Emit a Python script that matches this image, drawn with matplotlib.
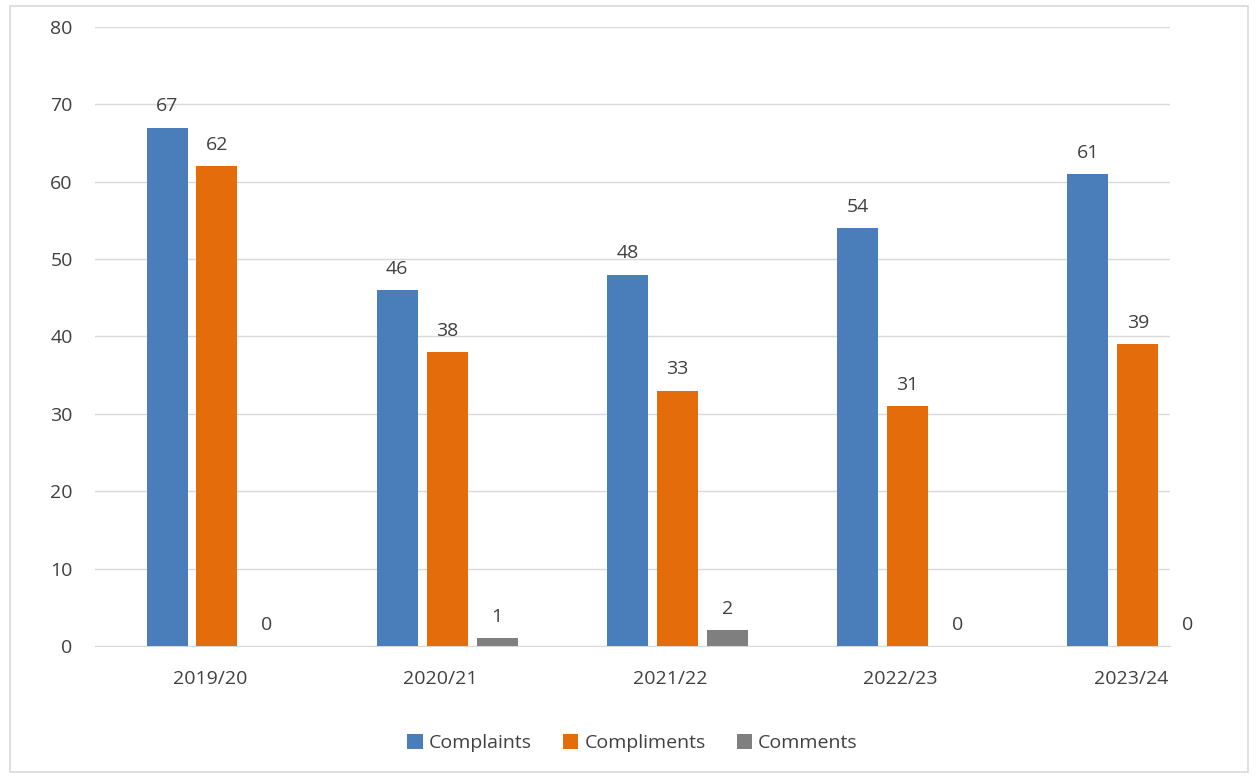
"""Complaints, compliments and comments by year - grouped bar chart."""

import matplotlib.pyplot as plt
import matplotlib as mpl
import numpy as np
from matplotlib.patches import Rectangle

mpl.rcParams.update(
    {
        "font.family": ["Open Sans", "DejaVu Sans"],
        "font.size": 14,
        "text.color": "#404040",
    }
)

YEARS = ["2019/20", "2020/21", "2021/22", "2022/23", "2023/24"]
COMPLAINTS = [67, 46, 48, 54, 61]
COMPLIMENTS = [62, 38, 33, 31, 39]
COMMENTS = [0, 1, 2, 0, 0]

SERIES = [
    ("Complaints", COMPLAINTS, "#4a7ebb"),
    ("Compliments", COMPLIMENTS, "#e46c0a"),
    ("Comments", COMMENTS, "#7f7f7f"),
]

fig = plt.figure(figsize=(12.56, 7.78), dpi=100, facecolor="white")
ax = fig.add_axes([0.0756, 0.1697, 0.856, 0.7956])

x = np.arange(len(YEARS))
offset = 0.217
width = 0.178

for k, (name, vals, color) in enumerate(SERIES):
    pos = x + (k - 1) * offset
    ax.bar(pos, vals, width=width, color=color, label=name, zorder=3)
    for xp, v in zip(pos, vals):
        ax.text(xp, v + 1.6, str(v), ha="center", va="bottom", fontsize=14,
                color="#404040", clip_on=False)

ax.set_xlim(-0.53, 4.14)
ax.set_ylim(0, 80)
ax.set_yticks(np.arange(0, 81, 10))
ax.set_xticks(x - 0.03)
ax.set_xticklabels(YEARS)
ax.tick_params(axis="both", length=0, labelsize=14, labelcolor="#404040")
ax.tick_params(axis="y", pad=16)
ax.tick_params(axis="x", pad=17)

ax.grid(axis="y", color="#d9d9d9", linewidth=1.0, zorder=0)
for side in ("top", "right", "left"):
    ax.spines[side].set_visible(False)
ax.spines["bottom"].set_color("#d9d9d9")

ax.legend(
    loc="center",
    bbox_to_anchor=(0.5, -0.157),
    ncol=3,
    frameon=False,
    handlelength=0.8,
    handleheight=0.8,
    handletextpad=0.3,
    columnspacing=1.6,
    fontsize=14,
)

# light frame round the chart area
fig.patches.append(
    Rectangle((0.008, 0.008), 0.986, 0.984, transform=fig.transFigure,
              fill=False, edgecolor="#d9d9d9", linewidth=1.2)
)

fig.savefig("out.png", dpi=100, facecolor="white")
